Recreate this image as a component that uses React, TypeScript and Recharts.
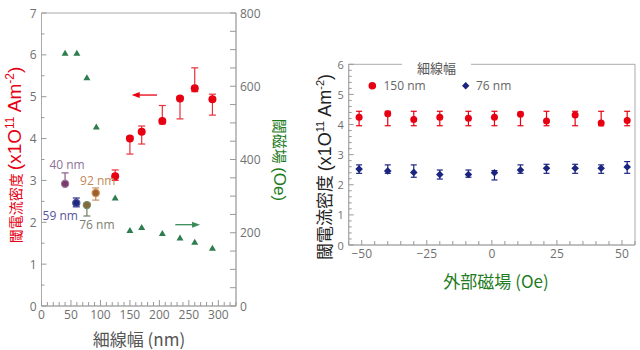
import React from 'react';
import { ComposedChart, Scatter, XAxis, YAxis, ErrorBar, ReferenceArea, ReferenceLine } from 'recharts';

// ---------- Left chart data ----------
const wireWidth = [125, 150, 170, 205, 235, 260, 290];
const jcWide = [3.1, 4.0, 4.16, 4.42, 4.96, 5.2, 4.94];
const jcWideLow = [3.0, 3.63, 3.87, 4.35, 4.47, 5.12, 4.56];
const jcWideHigh = [3.25, 4.05, 4.3, 4.79, 5.0, 5.69, 5.06];

const narrowLabels = ['40 nm', '59 nm', '76 nm', '92 nm'];
const narrowWidth = [40, 59, 77, 92];
const jcNarrow = [2.92, 2.46, 2.41, 2.7];
const jcNarrowLow = [2.9, 2.37, 2.15, 2.53];
const jcNarrowHigh = [3.18, 2.58, 2.46, 2.82];

const hcWidth = [40, 60, 77, 93, 125, 150, 170, 205, 235, 260, 290];
const hcValue = [690, 690, 623, 489, 295, 206, 214, 198, 186, 174, 158];

const arrowJc = { from: 196, to: 153, y: 5.04 };
const arrowHc = { from: 227, to: 269, y: 222 };

// ---------- Right chart data ----------
const field = [-51, -40, -30, -20, -9, 1, 11, 21, 32, 42, 52];
const jc150 = [4.24, 4.36, 4.17, 4.24, 4.21, 4.24, 4.34, 4.12, 4.32, 4.05, 4.13];
const jc150Low = [3.96, 3.96, 3.96, 3.96, 3.96, 3.96, 3.96, 3.96, 3.96, 3.96, 3.96];
const jc150High = [4.44, 4.44, 4.44, 4.44, 4.44, 4.44, 4.41, 4.44, 4.44, 4.44, 4.44];
const jc76 = [2.52, 2.46, 2.41, 2.34, 2.34, 2.4, 2.49, 2.55, 2.55, 2.55, 2.59];
const jc76Low = [2.38, 2.38, 2.25, 2.19, 2.25, 2.16, 2.38, 2.38, 2.38, 2.38, 2.38];
const jc76High = [2.66, 2.66, 2.66, 2.49, 2.49, 2.47, 2.66, 2.68, 2.68, 2.66, 2.77];

const legendLabels = ['150 nm', '76 nm'];
const legendTitle = '細線幅';

const range = (a: number, b: number, s: number) => {
  const out: number[] = [];
  for (let i = 0; a + i * s <= b + 1e-9; i++) out.push(+(a + i * s).toFixed(4));
  return out;
};
const xTicksL = range(0, 330, 10);
const yTicksL = range(0, 7, 0.5);
const yTicksR = range(0, 800, 50);
const xTicksRC = range(-55, 55, 5);
const yTicksRC = range(0, 6, 0.2);

const RED = '#e60012';
const NAVY = '#1b2580';
const GREEN = '#2e7d4f';
const TICK = '#999';
const TXT = '#707070';

const narrowStyle: Record<string, { fill: string; stroke: string; bar: string; text: string; dx: number; dy: number }> = {
  '40 nm': { fill: '#7a3a6e', stroke: '#a07895', bar: '#8a5a8a', text: '#8e7398', dx: 2, dy: -19 },
  '59 nm': { fill: '#1c2a80', stroke: '#5050a0', bar: '#2a2a8a', text: '#55559a', dx: -16, dy: 12 },
  '76 nm': { fill: '#86683a', stroke: '#70906a', bar: '#6f7f62', text: '#7a8070', dx: 10, dy: 19 },
  '92 nm': { fill: '#9a6030', stroke: '#d09050', bar: '#c89060', text: '#c0895a', dx: 2, dy: -12 },
};

const isMult = (v: number, s: number) => Math.abs(v / s - Math.round(v / s)) < 1e-6;

const makeTick = (side: 'left' | 'right' | 'bottom', majorStep: number, majLen: number, minLen: number, fs: number, gap: number) =>
  (props: any) => {
    const { x, y, payload } = props;
    const v = payload.value as number;
    const major = isMult(v, majorStep);
    const len = major ? majLen : minLen;
    let line;
    let text = null;
    if (side === 'left') {
      line = <line x1={x} y1={y} x2={x + len} y2={y} stroke={TICK} />;
      if (major) text = <text x={x - gap} y={y} textAnchor="end" dominantBaseline="central" fontSize={fs} fill={TXT}>{v}</text>;
    } else if (side === 'right') {
      line = <line x1={x} y1={y} x2={x - len} y2={y} stroke={TICK} />;
      if (major) text = <text x={x + gap} y={y} textAnchor="start" dominantBaseline="central" fontSize={fs} fill={TXT}>{v}</text>;
    } else {
      line = <line x1={x} y1={y} x2={x} y2={y - len} stroke={TICK} />;
      if (major) text = <text x={x} y={y + gap} textAnchor="middle" dominantBaseline="central" fontSize={fs} fill={TXT}>{v < 0 ? '\u2212' + Math.abs(v) : v}</text>;
    }
    return <g>{line}{text}</g>;
  };

const arrowShape = (color: string) => (p: any) => {
  const { x1, y1, x2, y2 } = p;
  const dir = x2 > x1 ? 1 : -1;
  const hx = x2;
  return (
    <g>
      <line x1={x1} y1={y1} x2={x2 - dir * 4} y2={y2} stroke={color} strokeWidth={1.3} />
      <polygon points={`${hx},${y2} ${hx - dir * 8},${y2 - 3} ${hx - dir * 8},${y2 + 3}`} fill={color} />
    </g>
  );
};

const FONT = '"Open Sans", "Noto Sans CJK JP", sans-serif';
const LAT = '"Liberation Sans", Arial, sans-serif';
const CJK = '"Noto Sans CJK JP", sans-serif';

export default function App() {
  const wideData = wireWidth.map((w, i) => ({ x: w, y: jcWide[i], err: [jcWide[i] - jcWideLow[i], jcWideHigh[i] - jcWide[i]] }));
  const narrowData = narrowLabels.map((l, i) => [{ x: narrowWidth[i], y: jcNarrow[i], label: l, err: [jcNarrow[i] - jcNarrowLow[i], jcNarrowHigh[i] - jcNarrow[i]] }]);
  const hcData = hcWidth.map((w, i) => ({ x: w, y: hcValue[i] }));
  const d150 = field.map((f, i) => ({ x: f, y: jc150[i], err: [jc150[i] - jc150Low[i], jc150High[i] - jc150[i]] }));
  const d76 = field.map((f, i) => ({ x: f, y: jc76[i], err: [jc76[i] - jc76Low[i], jc76High[i] - jc76[i]] }));

  return (
    <div style={{ position: 'absolute', left: 0, top: 0, width: 640, height: 350, background: '#fff', fontFamily: FONT }}>
      <div style={{ position: 'absolute', left: 0, top: 0 }}>
        <ComposedChart width={320} height={350} margin={{ top: 13, right: 83, bottom: 43, left: 40.5 }}>
          <XAxis type="number" dataKey="x" domain={[0, 330]} ticks={xTicksL} interval={0} tickSize={0} tickMargin={0}
            tickLine={false} tick={makeTick('bottom', 50, 6, 4, 12, 8)} height={1} axisLine={{ stroke: '#aaa' }} allowDataOverflow />
          <YAxis yAxisId="left" type="number" dataKey="y" domain={[0, 7]} ticks={yTicksL} interval={0} tickSize={0} tickMargin={0}
            tickLine={false} tick={makeTick('left', 1, 5, 3, 12, 5)} width={1} axisLine={{ stroke: '#aaa' }} allowDataOverflow />
          <YAxis yAxisId="right" orientation="right" type="number" dataKey="y" domain={[0, 800]} ticks={yTicksR} interval={0} tickSize={0} tickMargin={0}
            tickLine={false} tick={makeTick('right', 200, 6, 6, 12, 4)} width={1} axisLine={{ stroke: '#aaa' }} allowDataOverflow />
          <ReferenceArea yAxisId="left" x1={0} x2={330} y1={0} y2={7} fill="none" stroke="#aaa" ifOverflow="visible" />
          <ReferenceLine yAxisId="left" segment={[{ x: arrowJc.from, y: arrowJc.y }, { x: arrowJc.to, y: arrowJc.y }]} shape={arrowShape(RED)} ifOverflow="visible" />
          <ReferenceLine yAxisId="right" segment={[{ x: arrowHc.from, y: arrowHc.y }, { x: arrowHc.to, y: arrowHc.y }]} shape={arrowShape('#3a8a5a')} ifOverflow="visible" />
          <Scatter yAxisId="right" data={hcData} isAnimationActive={false}
            shape={(p: any) => <polygon points={`${p.cx},${p.cy - 3.5} ${p.cx - 3.5},${p.cy + 2.5} ${p.cx + 3.5},${p.cy + 2.5}`} fill={GREEN} />} />
          <Scatter yAxisId="left" data={wideData} isAnimationActive={false}
            shape={(p: any) => <circle cx={p.cx} cy={p.cy} r={4} fill={RED} />}>
            <ErrorBar dataKey="err" direction="y" width={3.5} stroke="#e8303a" strokeWidth={1.2} />
          </Scatter>
          {narrowData.map((d, i) => {
            const st = narrowStyle[narrowLabels[i]];
            return (
              <Scatter key={narrowLabels[i]} yAxisId="left" data={d} isAnimationActive={false}
                shape={(p: any) => (
                  <g>
                    <circle cx={p.cx} cy={p.cy} r={3.6} fill={st.fill} stroke={st.stroke} strokeWidth={1.2} />
                    <text x={p.cx + st.dx} y={p.cy + st.dy} textAnchor="middle" dominantBaseline="central" fontSize={12} fill={st.text}>{narrowLabels[i]}</text>
                  </g>
                )}>
                <ErrorBar dataKey="err" direction="y" width={3.5} stroke={st.bar} strokeWidth={1.2} />
              </Scatter>
            );
          })}
        </ComposedChart>
      </div>

      <div style={{ position: 'absolute', left: 320, top: 0 }}>
        <ComposedChart width={320} height={350} margin={{ top: 64.3, right: 5, bottom: 104, left: 27.7 }}>
          <XAxis type="number" dataKey="x" domain={[-55, 55]} ticks={xTicksRC} interval={0} tickSize={0} tickMargin={0}
            tickLine={false} tick={makeTick('bottom', 25, 5, 4, 12, 8)} height={1} axisLine={{ stroke: '#aaa' }} allowDataOverflow />
          <YAxis type="number" dataKey="y" domain={[0, 6]} ticks={yTicksRC} interval={0} tickSize={0} tickMargin={0}
            tickLine={false} tick={makeTick('left', 1, 5, 3, 11, 5)} width={1} axisLine={{ stroke: '#aaa' }} allowDataOverflow />
          <ReferenceArea x1={-55} x2={55} y1={0} y2={6} fill="none" stroke="#aaa" ifOverflow="visible" />
          <Scatter data={d150} isAnimationActive={false} shape={(p: any) => <circle cx={p.cx} cy={p.cy} r={3.5} fill={RED} />}>
            <ErrorBar dataKey="err" direction="y" width={3} stroke={RED} strokeWidth={1.2} />
          </Scatter>
          <Scatter data={d76} isAnimationActive={false}
            shape={(p: any) => <polygon points={`${p.cx},${p.cy - 3.8} ${p.cx + 3.8},${p.cy} ${p.cx},${p.cy + 3.8} ${p.cx - 3.8},${p.cy}`} fill={NAVY} />}>
            <ErrorBar dataKey="err" direction="y" width={3} stroke={NAVY} strokeWidth={1.2} />
          </Scatter>
        </ComposedChart>
      </div>

      <svg width={640} height={350} style={{ position: 'absolute', left: 0, top: 0, pointerEvents: 'none' }}>
        {/* Left chart titles */}
        <text transform="translate(21,155) rotate(-90)" textAnchor="middle" fill={RED}>
          <tspan fontFamily={CJK} fontSize={14}>閾電流密度 </tspan>
          <tspan fontFamily={LAT} fontSize={19}>(x1O</tspan>
          <tspan fontFamily={LAT} fontSize={12} dy={-7}>11</tspan>
          <tspan fontFamily={LAT} fontSize={19} dy={7}> Am</tspan>
          <tspan fontFamily={LAT} fontSize={12} dy={-7}>-2</tspan>
          <tspan fontFamily={LAT} fontSize={19} dy={7}>)</tspan>
        </text>
        <text transform="translate(274,160) rotate(90)" textAnchor="middle" fill="#1e7b1e">
          <tspan fontFamily={CJK} fontSize={15}>閾磁場 </tspan>
          <tspan fontFamily={LAT} fontSize={17}>(Oe)</tspan>
        </text>
        <text x={139} y={338} textAnchor="middle" dominantBaseline="central" fontFamily={CJK} fontSize={17} fill="#555">細線幅 (nm)</text>

        {/* Right chart titles */}
        <text transform="translate(331,167) rotate(-90)" textAnchor="middle" fill="#222">
          <tspan fontFamily={CJK} fontSize={17}>閾電流密度 </tspan>
          <tspan fontFamily={LAT} fontSize={18}>(x1O</tspan>
          <tspan fontFamily={LAT} fontSize={11} dy={-7}>11</tspan>
          <tspan fontFamily={LAT} fontSize={18} dy={7}> Am</tspan>
          <tspan fontFamily={LAT} fontSize={11} dy={-7}>-2</tspan>
          <tspan fontFamily={LAT} fontSize={18} dy={7}>)</tspan>
        </text>
        <text x={496} y={280} textAnchor="middle" dominantBaseline="central" fontFamily={CJK} fontSize={17} fill="#1e7b1e">外部磁場 (Oe)</text>

        {/* Legend */}
        <rect x={402} y={60} width={69} height={10} fill="#fff" />
        <text x={436.5} y={67.5} textAnchor="middle" dominantBaseline="central" fontFamily={CJK} fontSize={13} fill="#555">{legendTitle}</text>
        <circle cx={372.3} cy={85.7} r={3.8} fill={RED} />
        <text x={383.5} y={85.7} dominantBaseline="central" fontSize={12} fill="#666">{legendLabels[0]}</text>
        <polygon points="465.7,82 469.4,85.7 465.7,89.4 462,85.7" fill={NAVY} />
        <text x={476} y={85.7} dominantBaseline="central" fontSize={12} fill="#666">{legendLabels[1]}</text>
      </svg>
    </div>
  );
}
